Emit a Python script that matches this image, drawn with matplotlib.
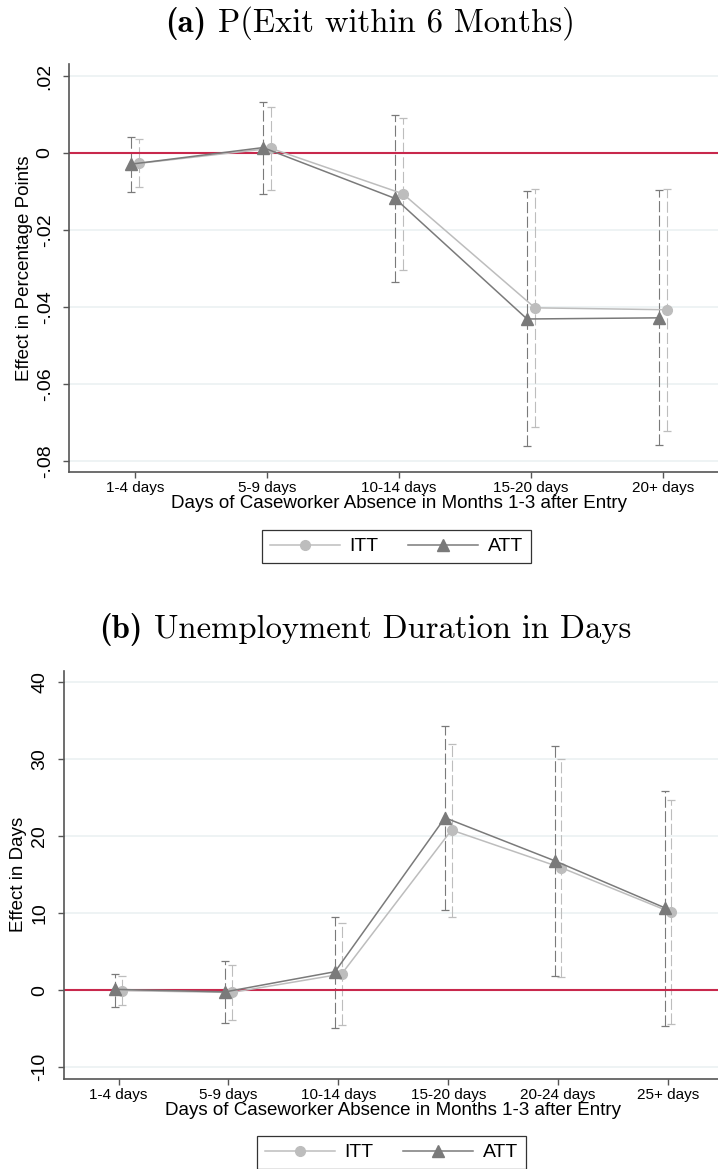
import matplotlib
matplotlib.use("Agg")
import matplotlib.pyplot as plt
from matplotlib.lines import Line2D

# ---- Panel (a): P(Exit within 6 months) ----
cats_a = ["1-4 days", "5-9 days", "10-14 days", "15-20 days", "20+ days"]
itt_a = [-0.0027, 0.0012, -0.0106, -0.0402, -0.0407]
itt_a_lo = [-0.0089, -0.0095, -0.0304, -0.0711, -0.0721]
itt_a_hi = [0.0035, 0.0119, 0.0090, -0.0093, -0.0093]
att_a = [-0.0029, 0.0014, -0.0118, -0.0431, -0.0428]
att_a_lo = [-0.0102, -0.0106, -0.0336, -0.0762, -0.0759]
att_a_hi = [0.0041, 0.0132, 0.0099, -0.0100, -0.0097]
yticks_a = [0.02, 0.0, -0.02, -0.04, -0.06, -0.08]
ytick_labels_a = [".02", "0", "-.02", "-.04", "-.06", "-.08"]

# ---- Panel (b): unemployment duration in days ----
cats_b = ["1-4 days", "5-9 days", "10-14 days", "15-20 days", "20-24 days", "25+ days"]
itt_b = [-0.05, -0.3, 2.1, 20.8, 15.9, 10.1]
itt_b_lo = [-1.95, -3.85, -4.46, 9.57, 1.73, -4.4]
itt_b_hi = [1.86, 3.33, 8.7, 31.95, 30.05, 24.7]
att_b = [0.1, -0.22, 2.4, 22.4, 16.8, 10.7]
att_b_lo = [-2.2, -4.29, -4.9, 10.35, 1.82, -4.6]
att_b_hi = [2.16, 3.77, 9.57, 34.3, 31.7, 25.9]
yticks_b = [40, 30, 20, 10, 0, -10]
ytick_labels_b = ["40", "30", "20", "10", "0", "-10"]

xlabel = "Days of Caseworker Absence in Months 1-3 after Entry"
titles = [("(a)", "P(Exit within 6 Months)"), ("(b)", "Unemployment Duration in Days")]

plt.rcParams["font.family"] = ["Liberation Sans", "DejaVu Sans"]
plt.rcParams["lines.scale_dashes"] = False

W, H = 718, 1169
fig = plt.figure(figsize=(W / 100, H / 100), dpi=100)

C_ITT = "#bdbdbd"
C_ATT = "#7a7a7a"
C_ZERO = "#c8284c"
C_GRID = "#e9f0f1"
C_AXIS = "#555555"
OFF = 0.03


def px_axes(left, right, top, bottom):
    return fig.add_axes([left / W, 1 - bottom / H, (right - left) / W, (bottom - top) / H])


def draw_panel(ax, cats, itt, itt_lo, itt_hi, att, att_lo, att_hi, yticks, ylabels, ylim, ylab):
    n = len(cats)
    pos = list(range(1, n + 1))
    xa = [p - OFF for p in pos]
    xi = [p + OFF for p in pos]

    for t in yticks:
        if t != 0:
            ax.axhline(t, color=C_GRID, lw=1.1, zorder=0)
    # confidence intervals: dashed whiskers with small caps
    for xs, lo, hi, c in ((xa, att_lo, att_hi, C_ATT), (xi, itt_lo, itt_hi, C_ITT)):
        ax.vlines(xs, lo, hi, colors=c, lw=0.8, linestyles=[(0, (8.0, 2.5))], zorder=1)
        ax.plot(xs, lo, ls="none", marker="_", ms=6, mew=0.9, color=c, zorder=1)
        ax.plot(xs, hi, ls="none", marker="_", ms=6, mew=0.9, color=c, zorder=1)
    ax.axhline(0, color=C_ZERO, lw=1.5, zorder=2)
    ax.plot(xi, itt, color=C_ITT, lw=1.1, marker="o", ms=7, mec=C_ITT, mfc=C_ITT, zorder=3)
    ax.plot(xa, att, color=C_ATT, lw=1.1, marker="^", ms=8.5, mec=C_ATT, mfc=C_ATT, zorder=4)

    ax.set_xlim(0.5, n + 0.5)
    ax.set_ylim(*ylim)
    ax.set_xticks(pos)
    ax.set_xticklabels(cats, fontsize=11)
    ax.set_yticks(yticks)
    ax.set_yticklabels(ylabels, fontsize=14, rotation=90, va="center")
    ax.tick_params(axis="x", length=4.5, width=1.0, color=C_AXIS, pad=2)
    ax.tick_params(axis="y", length=4, width=1.0, color=C_AXIS, pad=7)
    for s in ("top", "right"):
        ax.spines[s].set_visible(False)
    for s in ("left", "bottom"):
        ax.spines[s].set_color(C_AXIS)
        ax.spines[s].set_linewidth(1.2)
    ax.set_xlabel(xlabel, fontsize=13.5, labelpad=0)
    ax.set_ylabel(ylab, fontsize=13.5, labelpad=3)


ax_a = px_axes(69, 729, 64, 472.3)
draw_panel(ax_a, cats_a, itt_a, itt_a_lo, itt_a_hi, att_a, att_a_lo, att_a_hi,
           yticks_a, ytick_labels_a, (-0.0829, 0.0231), "Effect in Percentage Points")

ax_b = px_axes(63.6, 723, 670.7, 1078.7)
draw_panel(ax_b, cats_b, itt_b, itt_b_lo, itt_b_hi, att_b, att_b_lo, att_b_hi,
           yticks_b, ytick_labels_b, (-11.5, 41.5), "Effect in Days")

handles = [
    Line2D([], [], color=C_ITT, lw=1.1, marker="o", ms=7, mec=C_ITT, mfc=C_ITT),
    Line2D([], [], color=C_ATT, lw=1.1, marker="^", ms=8.5, mec=C_ATT, mfc=C_ATT),
]
for left, top in ((262, 530), (257, 1136)):
    leg = fig.legend(handles, ["ITT", "ATT"], loc="upper left",
                     bbox_to_anchor=(left / W, 1 - top / H), bbox_transform=fig.transFigure,
                     ncol=2, fontsize=14, frameon=True, fancybox=False, shadow=False,
                     handlelength=3.6, handletextpad=0.5, columnspacing=1.5,
                     borderpad=0.4, borderaxespad=0)
    fr = leg.get_frame()
    fr.set_edgecolor("black")
    fr.set_linewidth(0.9)

# Panel titles: bold label followed by a roman caption, centred as one line
renderer = fig.canvas.get_renderer()
TITLE_SIZE = 23.5
for (tag, caption), (cx, base) in zip(titles, ((370, 32), (365, 638))):
    t1 = fig.text(0, 1 - base / H, tag, fontfamily="cmb10", fontsize=TITLE_SIZE,
                  ha="left", va="baseline")
    t2 = fig.text(0, 1 - base / H, caption, fontfamily="cmr10", fontsize=TITLE_SIZE,
                  ha="left", va="baseline")
    w1 = t1.get_window_extent(renderer).width
    w2 = t2.get_window_extent(renderer).width
    gap = 0.36 * TITLE_SIZE * 100 / 72
    x0 = cx - (w1 + gap + w2) / 2
    t1.set_x(x0 / W)
    t2.set_x((x0 + w1 + gap) / W)

fig.savefig("out.png", dpi=100, facecolor="white")
